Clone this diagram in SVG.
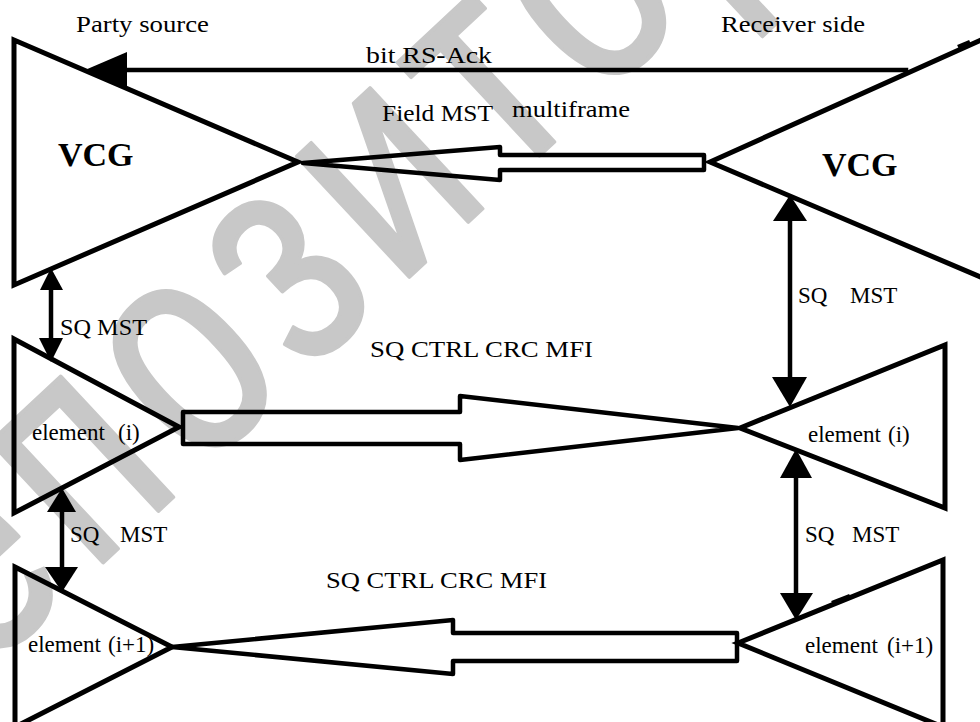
<svg xmlns="http://www.w3.org/2000/svg" width="980" height="722" viewBox="0 0 980 722">
<style>
.tri{fill:none;stroke:#000;stroke-width:5;stroke-linejoin:miter}
.hol{fill:none;stroke:#000;stroke-width:4.5;stroke-linejoin:round}
.ln{fill:none;stroke:#000;stroke-width:4.5}
.head{fill:#000;stroke:none}
.t{font-family:"Liberation Serif","Times New Roman",serif;font-size:23px;fill:#000}
.b{font-weight:bold;font-size:34px}
.wm{font-family:"Liberation Sans",Arial,sans-serif;font-size:240px;letter-spacing:16px;fill:#c8c8c8;stroke:#c8c8c8;stroke-width:3;stroke-linejoin:round}
</style>
<rect width="980" height="722" fill="#fff"/>
<g id="watermark">
<text class="wm" transform="translate(-128,778) rotate(-43) scale(1,1.3)">репозиторий</text>
</g>
<g id="vcg-source">
<polygon class="tri" points="14,40 298,162 14,285"/>
<text class="t b" x="58" y="166">VCG</text>
</g>
<g id="vcg-receiver">
<polygon class="tri" points="710,162 990,36 990,281"/>
<text class="t b" x="822" y="176">VCG</text>
</g>
<g id="element-i-source">
<polygon class="tri" points="14,339 179,427 14,513"/>
<text class="t"><tspan x="32" y="440">element</tspan><tspan x="118" y="440">(i)</tspan></text>
</g>
<g id="element-i1-source">
<polygon class="tri" points="15,567 172,647 15,727"/>
<text class="t"><tspan x="28" y="652">element</tspan><tspan x="108" y="652">(i+1)</tspan></text>
</g>
<g id="element-i-receiver">
<polygon class="tri" points="740,428 945,345 945,508"/>
<text class="t"><tspan x="808" y="442">element</tspan><tspan x="888" y="442">(i)</tspan></text>
</g>
<g id="element-i1-receiver">
<polygon class="tri" points="738,643 943,560 943,727"/>
<text class="t"><tspan x="805" y="653">element</tspan><tspan x="887" y="653">(i+1)</tspan></text>
<path class="ln" d="M832,603 L850,596" stroke-width="7"/>
</g>
<g id="connectors">
<path class="ln" d="M125,70 H906 V73"/>
<polygon class="head" points="85,70 127,52 127,89"/>
<path class="ln" d="M958,47 L970,42" stroke-width="7"/>
<polygon class="hol" points="303,163 500,147 500,155 704,155 704,170 500,170 500,180"/>
<polygon class="hol" points="183,412 460,412 460,396 738,428 460,460 460,444 183,444"/>
<polygon class="hol" points="172,647 453,620 453,633 737,633 737,661 453,661 453,674"/>
<line class="ln" x1="51" y1="285" x2="51" y2="342"/>
<polygon class="head" points="51,268 40,290 63,290"/>
<polygon class="head" points="51,362 39,338 63,338"/>
<line class="ln" x1="62" y1="508" x2="62" y2="570"/>
<polygon class="head" points="62,488 47,512 76,512"/>
<polygon class="head" points="62,592 45,567 78,567"/>
<line class="ln" x1="790" y1="215" x2="790" y2="382"/>
<polygon class="head" points="790,195 773,221 807,221"/>
<polygon class="head" points="790,407 772,377 807,377"/>
<line class="ln" x1="796" y1="474" x2="796" y2="597"/>
<polygon class="head" points="796,449 780,478 812,478"/>
<polygon class="head" points="796,620 780,593 813,593"/>
</g>
<g id="labels">
<text class="t" x="76" y="32" textLength="133" lengthAdjust="spacingAndGlyphs" font-size="22">Party source</text>
<text class="t" x="721" y="32" textLength="144" lengthAdjust="spacingAndGlyphs" font-size="22">Receiver side</text>
<text class="t" x="366" y="63" textLength="126" lengthAdjust="spacingAndGlyphs">bit  RS-Ack</text>
<text class="t" x="382" y="121" textLength="111" lengthAdjust="spacingAndGlyphs">Field MST</text>
<text class="t" x="512" y="117" textLength="118" lengthAdjust="spacingAndGlyphs">multiframe</text>
<text class="t" x="370" y="357" textLength="223" lengthAdjust="spacingAndGlyphs" font-size="25">SQ CTRL CRC MFI</text>
<text class="t" x="326" y="588" textLength="221" lengthAdjust="spacingAndGlyphs" font-size="25">SQ CTRL CRC MFI</text>
<text class="t" x="60" y="335" textLength="87" lengthAdjust="spacingAndGlyphs">SQ MST</text>
<text class="t"><tspan x="70" y="542">SQ</tspan><tspan x="120" y="542">MST</tspan></text>
<text class="t"><tspan x="798" y="303">SQ</tspan><tspan x="850" y="303">MST</tspan></text>
<text class="t"><tspan x="805" y="542">SQ</tspan><tspan x="852" y="542">MST</tspan></text>
</g>
</svg>
